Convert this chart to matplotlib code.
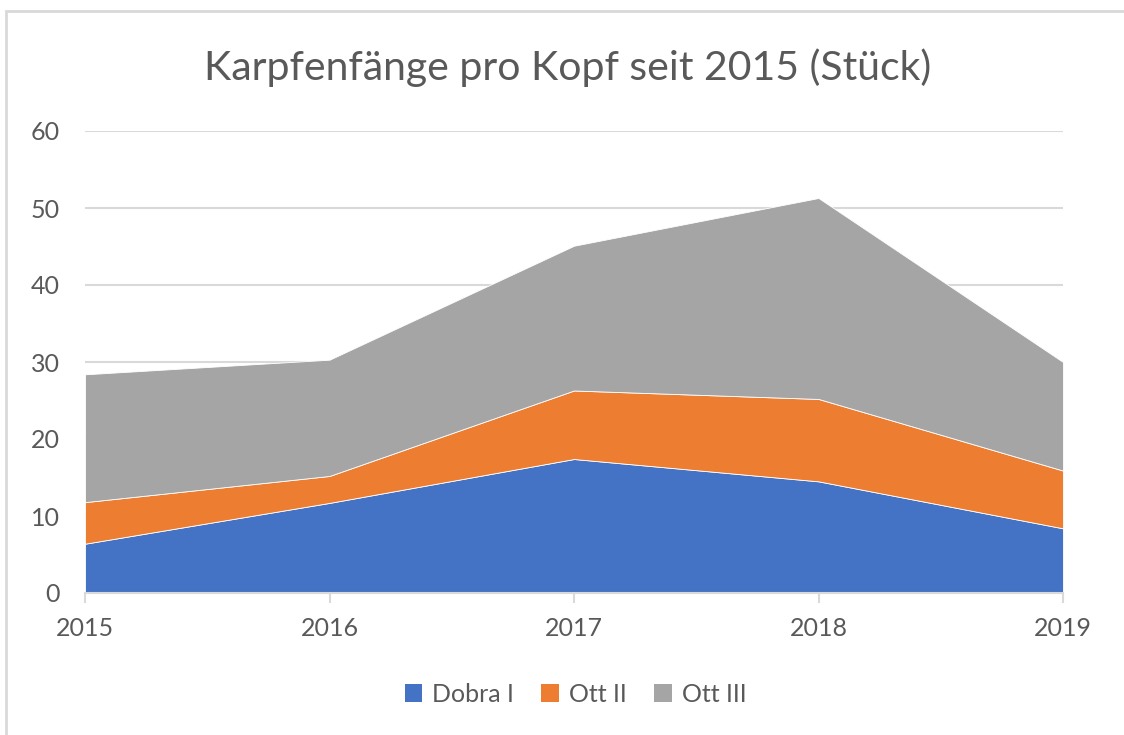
import numpy as np
import matplotlib
matplotlib.use('Agg')
import matplotlib.pyplot as plt
from matplotlib.patches import Rectangle, Patch

plt.rcParams['font.family'] = ['Lato', 'DejaVu Sans']

years = ['2015', '2016', '2017', '2018', '2019']
dobra_1 = [6.4, 11.7, 17.4, 14.5, 8.4]
ott_2 = [5.4, 3.5, 8.9, 10.7, 7.5]
ott_3 = [16.6, 15.1, 18.8, 26.1, 14.1]
series_names = ['Dobra I', 'Ott II', 'Ott III']
colors = ['#4472c4', '#ed7d31', '#a5a5a5']
text_col = '#595959'
grid_col = '#d9d9d9'

fig = plt.figure(figsize=(11.24, 7.35), dpi=100)
ax = fig.add_axes([85 / 1124, 1 - 593 / 735, (1063 - 85) / 1124, (593 - 131) / 735])

x = np.arange(len(years))
ax.stackplot(x, dobra_1, ott_2, ott_3, colors=colors, labels=series_names,
             edgecolor='white', linewidth=0.6, zorder=2)

ax.set_xlim(0, len(years) - 1)
ax.set_ylim(0, 60)
ax.set_yticks(range(0, 61, 10))
ax.set_xticks(x)
ax.set_xticklabels(years)
ax.yaxis.grid(True, color=grid_col, linewidth=1.5, zorder=0)
ax.set_axisbelow(True)
for s in ['top', 'right', 'left']:
    ax.spines[s].set_visible(False)
ax.spines['bottom'].set_color(grid_col)
ax.spines['bottom'].set_linewidth(1.5)
ax.tick_params(axis='y', length=0, pad=18, labelsize=18, labelcolor=text_col)
ax.tick_params(axis='x', length=7, width=1.5, color=grid_col, pad=10,
               labelsize=18, labelcolor=text_col)

fig.text(0.505, 1 - 68 / 735, 'Karpfenfänge pro Kopf seit 2015 (Stück)',
         ha='center', va='center', fontsize=29.5, color=text_col)

handles = [Patch(facecolor=c, label=n) for c, n in zip(colors, series_names)]
fig.legend(handles=handles, loc='center', bbox_to_anchor=(0.512, 1 - 694 / 735),
           ncol=3, frameon=False, fontsize=18, labelcolor=text_col,
           handlelength=0.7, handleheight=0.7, handletextpad=0.4, columnspacing=1.1)

# light frame around the chart
fig.patches.append(Rectangle((6 / 1124, -0.1), 1.2, 1 - 11 / 735 + 0.1,
                             transform=fig.transFigure, fill=False,
                             edgecolor='#d9d9d9', linewidth=2))

fig.savefig('out.png', dpi=100)
